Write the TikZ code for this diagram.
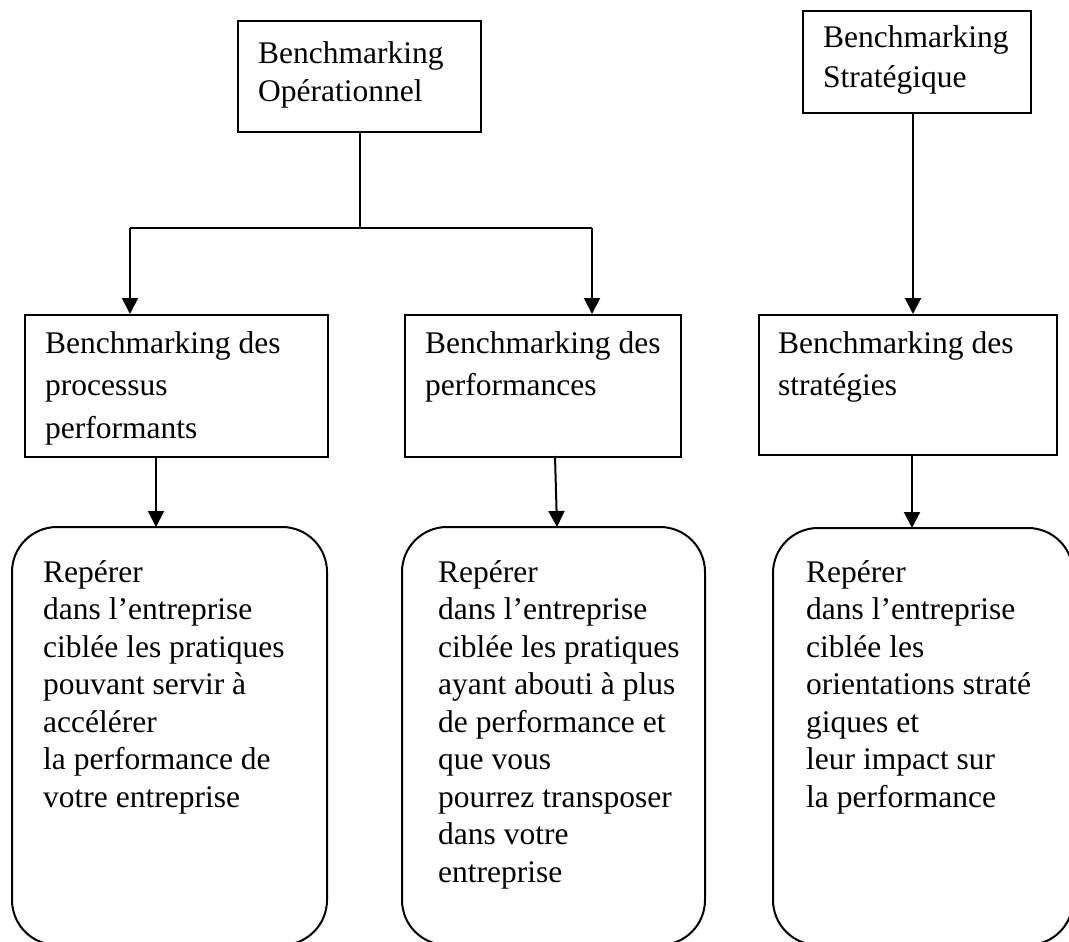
\documentclass[tikz,border=0pt]{standalone}
\usepackage{fontspec}
\setmainfont{Liberation Serif}
\usetikzlibrary{arrows.meta}
\begin{document}
\begin{tikzpicture}[x=1pt,y=-1pt,
  box/.style={draw,line width=2pt,rectangle,inner sep=0pt,anchor=north west},
  rbox/.style={draw,line width=2pt,rounded corners=45pt},
  % text blocks are anchored at the baseline of their last line
  txt/.style={anchor=base west,align=left,inner sep=0pt,font=\fontsize{31.5}{37.5}\selectfont},
  link/.style={line width=2pt},
  arr/.style={line width=2pt,-{Triangle[width=16pt,length=16pt]}}]
\useasboundingbox (0,0) rectangle (1069,942);
\begin{scope}
\clip (0,0) rectangle (1069,942);
% top level boxes
\node[box,minimum width=243pt,minimum height=111pt] (op) at (237,20) {};
\node[box,minimum width=228pt,minimum height=102pt] (st) at (802,10) {};
% second level boxes
\node[box,minimum width=303pt,minimum height=142pt] (pa) at (24,314) {};
\node[box,minimum width=276pt,minimum height=142pt] (pb) at (404,314) {};
\node[box,minimum width=298pt,minimum height=140pt] (pc) at (758,314) {};
% rounded description boxes
\draw[rbox] (12,527) rectangle (327,945);
\draw[rbox] (402,527) rectangle (705,945);
\draw[rbox] (773,528) rectangle (1073,945);
\coordinate (ra) at (169.5,527);
\coordinate (rb) at (553.5,527);
\coordinate (rc) at (923,528);
\end{scope}
% texts
\node[txt,font=\fontsize{31.5}{39}\selectfont] (t1) at (258,102) {Benchmarking\\Opérationnel};
\node[txt,font=\fontsize{31.5}{40}\selectfont] (t2) at (823,88) {Benchmarking\\Stratégique};
\node[txt,font=\fontsize{31.5}{42.5}\selectfont] (t3) at (45,438) {Benchmarking des\\processus\\performants};
\node[txt,font=\fontsize{31.5}{42.5}\selectfont] (t4) at (425,395.5) {Benchmarking des\\performances};
\node[txt,font=\fontsize{31.5}{42.5}\selectfont] (t5) at (778,395.5) {Benchmarking des\\stratégies};
\node[txt] (t6) at (43,807) {Repérer\\dans l’entreprise\\ciblée les pratiques\\pouvant servir à\\accélérer\\la performance de\\votre entreprise};
\node[txt] (t7) at (438,882) {Repérer\\dans l’entreprise\\ciblée les pratiques\\ayant abouti à plus\\de performance et\\que vous\\pourrez transposer\\dans votre\\entreprise};
\node[txt] (t8) at (806,807) {Repérer\\dans l’entreprise\\ciblée les\\orientations straté\\giques et\\leur impact sur\\la performance};
% connectors
\coordinate (j) at (op.south |- 0,228);
\coordinate (la) at (130,228);
\coordinate (lb) at (592,228);
\draw[link] (op.south) -- (j);
\draw[link] (la) -- (lb);
\draw[arr] (la) -- (la |- pa.north);
\draw[arr] (lb) -- (lb |- pb.north);
\draw[arr] ([xshift=-4pt]st.south) -- ([xshift=-4pt]st.south |- pc.north);
\draw[arr] (156,456) coordinate (a1) -- (a1 |- ra);
\draw[arr] (555,456) coordinate (b1) -- (557,527);
\draw[arr] (912,454) coordinate (c1) -- (c1 |- rc);
\end{tikzpicture}
\end{document}
